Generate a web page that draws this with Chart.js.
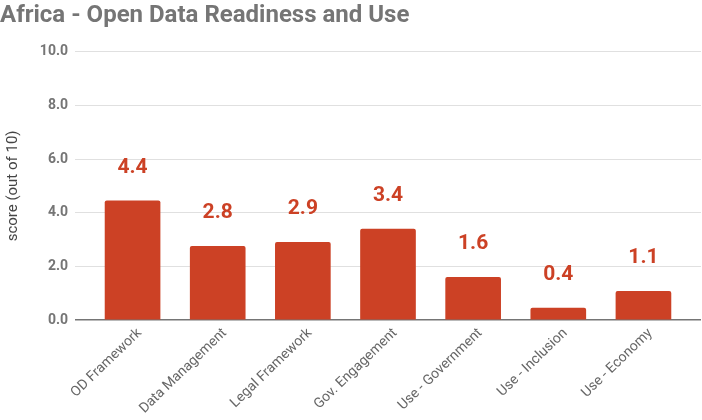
<!DOCTYPE html>
<html>
<head>
<meta charset="utf-8">
<script src="https://cdn.jsdelivr.net/npm/chart.js@4.4.1/dist/chart.umd.min.js"></script>
<style>
  html, body { margin: 0; padding: 0; background: #ffffff; }
  #wrap { width: 702px; height: 420px; position: relative; }
</style>
</head>
<body>
<div id="wrap"><canvas id="c" width="702" height="420"></canvas></div>
<script>
const chartTitle = "Africa - Open Data Readiness and Use";
const categories = ["OD Framework", "Data Management", "Legal Framework", "Gov. Engagement", "Use - Government", "Use - Inclusion", "Use - Economy"];
const scores = [4.44, 2.75, 2.9, 3.39, 1.59, 0.44, 1.07];
const yAxisTitle = "score (out of 10)";

const BAR_COLOR = "#cc4125";

const valueLabels = {
  id: "valueLabels",
  afterDatasetsDraw(chart) {
    const ctx = chart.ctx;
    const meta = chart.getDatasetMeta(0);
    ctx.save();
    ctx.font = "bold 21px Roboto";
    ctx.fillStyle = BAR_COLOR;
    ctx.textAlign = "center";
    ctx.textBaseline = "alphabetic";
    meta.data.forEach((el, i) => {
      ctx.fillText(scores[i].toFixed(1), el.x, el.y - 28);
    });
    ctx.restore();
  }
};

new Chart(document.getElementById("c"), {
  type: "bar",
  data: {
    datasets: [{
      data: scores.map((v, i) => ({ x: i, y: v })),
      backgroundColor: BAR_COLOR,
      borderRadius: 2,
      borderSkipped: "bottom",
      barThickness: 55
    }]
  },
  options: {
    responsive: false,
    animation: false,
    layout: { padding: { left: 0, right: 1, top: 0, bottom: 0 } },
    plugins: {
      legend: { display: false },
      tooltip: { enabled: false },
      title: {
        display: true,
        text: chartTitle,
        align: "start",
        color: "#757575",
        font: { family: "Roboto", size: 24, weight: "bold" },
        padding: { top: 2, bottom: 21 }
      }
    },
    scales: {
      x: {
        type: "linear",
        offset: false,
        min: -0.676,
        max: 6.676,
        grid: { display: false },
        border: { display: false },
        afterBuildTicks(scale) {
          scale.ticks = categories.map((_, i) => ({ value: i }));
        },
        afterFit(scale) { scale.height = 100; },
        ticks: {
          autoSkip: false,
          minRotation: 44,
          maxRotation: 44,
          labelOffset: 7,
          padding: -3,
          color: "#666666",
          font: { family: "Roboto", size: 14 },
          callback: (v) => categories[v] ?? ""
        }
      },
      y: {
        min: 0,
        max: 10,
        ticks: {
          stepSize: 2,
          padding: 7,
          color: "#757575",
          font: { family: "Roboto", size: 14, weight: "bold" },
          callback: (v) => Number(v).toFixed(1)
        },
        grid: {
          drawTicks: false,
          color: (c) => (c.tick && c.tick.value === 0 ? "#757575" : "#e0e0e0"),
          lineWidth: (c) => (c.tick && c.tick.value === 0 ? 1.5 : 1)
        },
        border: { display: false },
        title: {
          display: true,
          text: yAxisTitle,
          color: "#444444",
          font: { family: "Roboto", size: 15 },
          padding: { top: 4, bottom: 0 }
        },
        afterFit(scale) { scale.width = 75; }
      }
    }
  },
  plugins: [valueLabels]
});
</script>
</body>
</html>
